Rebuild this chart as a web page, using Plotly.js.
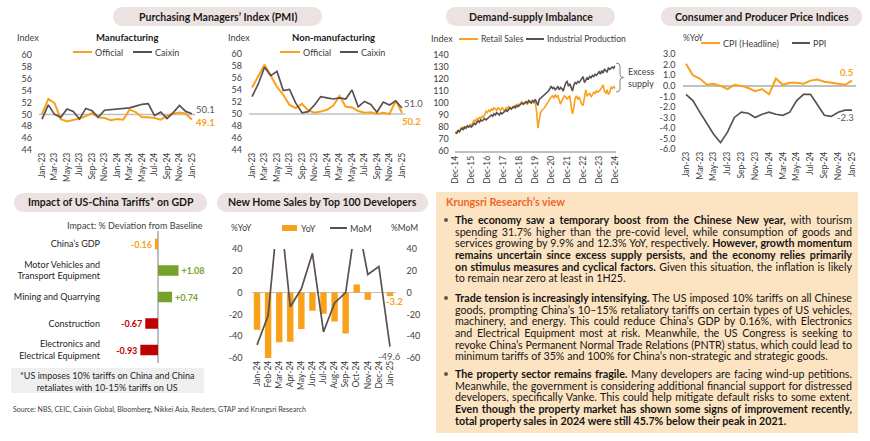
<!DOCTYPE html>
<html>
<head>
<meta charset="utf-8">
<script src="https://cdn.plot.ly/plotly-3.0.1.min.js"></script>
<style>
html,body{margin:0;padding:0;background:#fff;}
#wrap{position:relative;width:870px;height:441px;overflow:hidden;}
#chart{position:absolute;left:0;top:0;width:870px;height:441px;}
#view{position:absolute;left:436px;top:192px;width:422px;height:241px;font-family:Lato,"Open Sans",sans-serif;color:#151515;}
#view .h{position:absolute;left:10px;top:3px;height:14px;line-height:14px;font-size:10.8px;font-weight:bold;color:#f0642a;white-space:nowrap;}
#view .p{position:absolute;left:19px;width:397px;}
#view .l{height:11.6px;line-height:11.6px;font-size:10.7px;white-space:nowrap;}
#view .l span{white-space:nowrap;}
#view .dot{position:absolute;left:-11px;top:3.8px;width:4px;height:4px;border-radius:2px;background:#595959;}
</style>
</head>
<body>
<div id="wrap">
<div id="chart"></div>
<div id="view">
  <div class="h">Krungsri Research’s view</div>
  <div class="p" style="top:22.2px;">
    <div class="dot"></div>
    <div class="l j"><span><b>The economy saw a temporary boost from the Chinese New year,</b> with tourism</span></div>
    <div class="l j"><span>spending 31.7% higher than the pre-covid level, while consumption of goods and</span></div>
    <div class="l j"><span>services growing by 9.9% and 12.3% YoY, respectively. <b>However, growth momentum</b></span></div>
    <div class="l j"><span><b>remains uncertain since excess supply persists, and the economy relies primarily</b></span></div>
    <div class="l j"><span><b>on stimulus measures and cyclical factors.</b> Given this situation, the inflation is likely</span></div>
    <div class="l"><span>to remain near zero at least in 1H25.</span></div>
  </div>
  <div class="p" style="top:100.2px;">
    <div class="dot"></div>
    <div class="l j"><span><b>Trade tension is increasingly intensifying.</b> The US imposed 10% tariffs on all Chinese</span></div>
    <div class="l j"><span>goods, prompting China’s 10–15% retaliatory tariffs on certain types of US vehicles,</span></div>
    <div class="l j"><span>machinery, and energy. This could reduce China’s GDP by 0.16%, with Electronics</span></div>
    <div class="l j"><span>and Electrical Equipment most at risk. Meanwhile, the US Congress is seeking to</span></div>
    <div class="l j"><span>revoke China’s Permanent Normal Trade Relations (PNTR) status, which could lead to</span></div>
    <div class="l"><span>minimum tariffs of 35% and 100% for China’s non-strategic and strategic goods.</span></div>
  </div>
  <div class="p" style="top:176.2px;">
    <div class="dot"></div>
    <div class="l j"><span><b>The property sector remains fragile.</b> Many developers are facing wind-up petitions.</span></div>
    <div class="l j"><span>Meanwhile, the government is considering additional financial support for distressed</span></div>
    <div class="l j"><span>developers, specifically Vanke. This could help mitigate default risks to some extent.</span></div>
    <div class="l j"><span><b>Even though the property market has shown some signs of improvement recently,</b></span></div>
    <div class="l"><span><b>total property sales in 2024 were still 45.7% below their peak in 2021.</b></span></div>
  </div>
</div>
</div>
<script>
// ---------------- DATA ----------------
const pmiMonths = ['Jan-23','Feb-23','Mar-23','Apr-23','May-23','Jun-23','Jul-23','Aug-23','Sep-23','Oct-23','Nov-23','Dec-23',
  'Jan-24','Feb-24','Mar-24','Apr-24','May-24','Jun-24','Jul-24','Aug-24','Sep-24','Oct-24','Nov-24','Dec-24','Jan-25'];
const pmiTicks = ['Jan-23','Mar-23','May-23','Jul-23','Sep-23','Nov-23','Jan-24','Mar-24','May-24','Jul-24','Sep-24','Nov-24','Jan-25'];
const pmiYTicks = [44,46,48,50,52,54,56,58,60];
const pmiSeries = ['Official','Caixin'];

const mfgOfficial = [50.1,52.6,51.9,49.2,48.8,49.0,49.3,49.7,50.2,49.5,49.4,49.0,49.2,49.1,50.8,50.4,49.5,49.5,49.4,49.1,49.8,50.1,50.3,50.1,49.1];
const mfgCaixin   = [49.2,51.6,50.0,49.5,50.9,50.5,49.2,51.0,50.6,49.5,50.7,50.8,50.8,50.9,51.1,51.4,51.7,51.8,49.8,50.4,49.3,50.3,51.5,50.5,50.1];
const nonOfficial = [54.4,56.3,58.2,56.4,54.5,53.2,51.5,51.0,51.7,50.6,50.2,50.4,50.7,51.4,53.0,51.2,51.1,50.5,50.2,50.3,50.0,50.2,50.0,52.2,50.2];
const nonCaixin   = [52.9,55.0,57.8,56.4,57.1,53.9,54.1,51.8,50.2,50.4,51.5,52.9,52.7,52.5,52.7,52.5,54.0,51.2,52.1,51.6,50.3,52.0,51.5,52.2,51.0];

// Demand-supply (monthly index, Dec-14 .. Dec-24)
const dsStart = {month: 11, year: 2014};
const dsTicks = ['Dec-14','Dec-15','Dec-16','Dec-17','Dec-18','Dec-19','Dec-20','Dec-21','Dec-22','Dec-23','Dec-24'];
const dsYTicks = [60,70,80,90,100,110,120,130,140];
const dsSeries = ['Retail Sales','Industrial Production'];
const retailSales = [74,
  75,77,76,79,78,80,79,80,81,80,82,81,
  83,86,84,87,86,88,87,89,88,91,93,92,
  94,93,95,94,96,95,94,96,95,94,96,95,
  93,96,95,97,96,95,97,96,98,97,99,98,
  100,101,99,100,101,99,100,102,100,101,100,101,
  93,79,88,92,94,95,96,98,100,102,104,105,
  106,104,107,105,106,103,99,102,104,106,105,103,
  105,106,97,91,96,104,106,103,105,102,99,98,
  104,111,106,107,108,105,107,109,108,110,109,110,
  111,113,115,110,108,111,107,109,113,112,114,112];
const industrialProd = [76,
  75,77,76,78,79,78,80,79,81,80,81,80,
  82,83,82,84,85,84,86,85,86,87,86,87,
  88,89,90,89,91,90,92,91,90,92,91,92,
  93,94,93,95,96,95,96,97,96,98,97,98,
  99,100,99,100,101,100,102,101,100,102,101,103,
  101,98,103,104,105,106,107,108,109,110,112,114,
  112,113,111,112,114,111,113,112,110,114,117,118,
  114,116,113,110,115,117,116,118,117,119,121,122,
  117,119,121,120,122,121,123,122,124,123,125,126,
  124,127,125,128,127,126,129,128,129,130,129,131];

// CPI / PPI
const cpiYTicks = [3,2,1,0,-1,-2,-3,-4,-5,-6];
const cpiSeries = ['CPI (Headline)','PPI'];
const cpi = [2.1,1.0,0.7,0.1,0.2,0.0,-0.3,0.1,0.0,-0.2,-0.5,-0.3,-0.8,0.7,0.1,0.3,0.3,0.2,0.5,0.6,0.4,0.3,0.2,0.1,0.5];
const ppi = [-0.8,-1.4,-2.5,-3.6,-4.6,-5.4,-4.4,-3.0,-2.5,-2.6,-3.0,-2.7,-2.5,-2.7,-2.8,-2.5,-1.4,-0.8,-0.8,-1.8,-2.8,-2.9,-2.5,-2.3,-2.3];

// Tariff impact
const tariffCats = ['China’s GDP','Motor Vehicles and<br>Transport Equipment','Mining and Quarrying','Construction','Electronics and<br>Electrical Equipment'];
const tariffVals = [-0.16, 1.08, 0.74, -0.67, -0.93];

// New home sales
const homeMonths = ['Jan-24','Feb-24','Mar-24','Apr-24','May-24','Jun-24','Jul-24','Aug-24','Sep-24','Oct-24','Nov-24','Dec-24','Jan-25'];
const homeYoY = [-34,-60,-45.5,-45,-33.5,-16.6,-19.5,-26.5,-37.5,7.4,-6.5,0,-3.2];
const homeMoM = [-48,-21,85,-13,3.5,36,-36,-9.5,0,70,16.6,24,-49.6];
const homeYTicks = [40,20,0,-20,-40,-60];
const homeSeries = ['YoY','MoM'];

// ---------------- HELPERS ----------------
const W = 870, H = 441;
const PX = p => p / W;
const PY = p => 1 - p / H;
const dx = (a, b) => [a / W, b / W];
const dy = (t, b) => [1 - b / H, 1 - t / H];

const ORANGE = '#f9a11b', GRAY = '#5b5050', GREEN = '#76a12b', RED = '#c00000', LGRAY = '#bfbfbf', TXT = '#404040';
const FONT = 'Lato, "Open Sans", sans-serif';

const dsMonths = [];
{
  const mn = ['Jan','Feb','Mar','Apr','May','Jun','Jul','Aug','Sep','Oct','Nov','Dec'];
  let m = dsStart.month, y = dsStart.year;
  for (let i = 0; i < retailSales.length; i++) {
    dsMonths.push(mn[m] + '-' + String(y % 100).padStart(2, '0'));
    m++; if (m > 11) { m = 0; y++; }
  }
}

function pillPath(x0, x1, y0, y1) {
  const r = (y1 - y0) / 2, k = 0.5523 * r;
  const P = (x, y) => PX(x) + ',' + PY(y);
  return 'M' + P(x0 + r, y0) + ' L' + P(x1 - r, y0) +
    ' C' + P(x1 - r + k, y0) + ' ' + P(x1, y0 + r - k) + ' ' + P(x1, y0 + r) +
    ' C' + P(x1, y0 + r + k) + ' ' + P(x1 - r + k, y1) + ' ' + P(x1 - r, y1) +
    ' L' + P(x0 + r, y1) +
    ' C' + P(x0 + r - k, y1) + ' ' + P(x0, y1 - r + k) + ' ' + P(x0, y1 - r) +
    ' C' + P(x0, y0 + r - k) + ' ' + P(x0 + r - k, y0) + ' ' + P(x0 + r, y0) + ' Z';
}

// ---------------- TRACES ----------------
const ln = (x, y, xa, ya, color, width, name) => ({type:'scatter', mode:'lines', x, y, xaxis:xa, yaxis:ya,
  line:{color, width}, name, showlegend:false, hoverinfo:'skip'});

const tariffColors = [ORANGE, GREEN, GREEN, RED, RED];
const tariffText = tariffVals.map(v => (v > 0 ? '+' : '') + v.toFixed(2));

const traces = [
  ln(pmiMonths, mfgOfficial, 'x', 'y', ORANGE, 2, pmiSeries[0]),
  ln(pmiMonths, mfgCaixin, 'x', 'y', GRAY, 1.7, pmiSeries[1]),
  ln(pmiMonths, nonOfficial, 'x2', 'y2', ORANGE, 2, pmiSeries[0]),
  ln(pmiMonths, nonCaixin, 'x2', 'y2', GRAY, 1.7, pmiSeries[1]),
  ln(dsMonths, retailSales, 'x3', 'y3', ORANGE, 1.6, dsSeries[0]),
  ln(dsMonths, industrialProd, 'x3', 'y3', GRAY, 1.6, dsSeries[1]),
  ln(pmiMonths, cpi, 'x4', 'y4', ORANGE, 2, cpiSeries[0]),
  ln(pmiMonths, ppi, 'x4', 'y4', GRAY, 1.7, cpiSeries[1]),
  {type:'bar', orientation:'h', x:tariffVals, y:tariffCats, xaxis:'x5', yaxis:'y5', width:0.4,
   marker:{color:tariffColors}, text:tariffText, texttemplate:'<b>%{text}</b>', textposition:'outside',
   textfont:{color:tariffColors, size:9, family:FONT}, cliponaxis:false, constraintext:'none',
   showlegend:false, hoverinfo:'skip'},
  {type:'bar', x:homeMonths, y:homeYoY, xaxis:'x6', yaxis:'y6', width:0.58, marker:{color:ORANGE},
   name:homeSeries[0], showlegend:false, hoverinfo:'skip'},
  ln(homeMonths, homeMoM, 'x6', 'y7', GRAY, 1.7, homeSeries[1])
];

// ---------------- LAYOUT ----------------
const tf = {size:9, color:TXT, family:FONT};
const base = {showgrid:false, zeroline:false, showline:false, ticks:'', fixedrange:true, tickfont:tf};
const catX = (dom, anchor, range, tickvals) => Object.assign({}, base, {domain:dom, anchor, type:'category', range,
  tickmode:'array', tickvals, tickangle:-90, tickfont:Object.assign({}, tf, {size:8.5})});

const layout = {
  width:W, height:H, margin:{l:0, r:0, t:0, b:0}, paper_bgcolor:'#fff', plot_bgcolor:'rgba(0,0,0,0)',
  font:{family:FONT, size:9, color:TXT}, showlegend:false, bargap:0.4,
  xaxis: catX(dx(38.9,195.1), 'y', [-0.5,24.5], pmiTicks),
  yaxis: Object.assign({}, base, {domain:dy(55,150), anchor:'x', range:[44,60], tickmode:'array', tickvals:pmiYTicks, ticklabelstandoff:6}),
  xaxis2: catX(dx(248.9,405.1), 'y2', [-0.5,24.5], pmiTicks),
  yaxis2: Object.assign({}, base, {domain:dy(54,150), anchor:'x2', range:[44,60], tickmode:'array', tickvals:pmiYTicks, ticklabelstandoff:6}),
  xaxis3: Object.assign(catX(dx(454.8,615.7), 'y3', [-0.5,120.5], dsTicks), {showline:true, linecolor:LGRAY, linewidth:1.5}),
  yaxis3: Object.assign({}, base, {domain:dy(55,151), anchor:'x3', range:[60,140], tickmode:'array', tickvals:dsYTicks, ticklabelstandoff:5}),
  xaxis4: catX(dx(682.5,855.5), 'y4', [-0.5,24.5], pmiTicks),
  yaxis4: Object.assign({}, base, {domain:dy(54.3,149), anchor:'x4', range:[-6,3], tickmode:'array', tickvals:cpiYTicks,
    ticktext:cpiYTicks.map(v => v.toFixed(1)), zeroline:true, zerolinecolor:LGRAY, zerolinewidth:1.5, ticklabelstandoff:6}),
  xaxis5: Object.assign({}, base, {domain:dx(103,205), anchor:'y5', range:[-2.895,2.474], showticklabels:false,
    zeroline:true, zerolinecolor:LGRAY, zerolinewidth:1.5}),
  yaxis5: Object.assign({}, base, {domain:dy(230.75,363.25), anchor:'x5', type:'category', range:[4.5,-0.5],
    tickfont:{size:9, color:'#262626', family:FONT}, ticklabelstandoff:2}),
  xaxis6: catX(dx(251.5,395.5), 'y6', [-0.5,12.5], homeMonths),
  yaxis6: Object.assign({}, base, {domain:dy(249,358), anchor:'x6', range:[-60,40], tickmode:'array', tickvals:homeYTicks,
    ticktext:homeYTicks.map(String), zeroline:true, zerolinecolor:LGRAY, zerolinewidth:1.5, ticklabelstandoff:8}),
  yaxis7: Object.assign({}, base, {overlaying:'y6', anchor:'x6', side:'right', range:[-60,40], tickmode:'array',
    tickvals:homeYTicks, ticktext:homeYTicks.map(String), ticklabelstandoff:10}),
  shapes: [], annotations: []
};

const S = layout.shapes, A = layout.annotations;
// header pills
const PILL = '#ece2e2';
const headers = [
  [113,322,7,26,'Purchasing Managers’ Index (PMI)'],
  [446,615,7,26,'Demand-supply Imbalance'],
  [661,862,7,26,'Consumer and Producer Price Indices'],
  [14,207,193,212,'Impact of US-China Tariffs* on GDP'],
  [217,428,193,212,'New Home Sales by Top 100 Developers']
];
headers.forEach(h => {
  S.push({type:'path', xref:'paper', yref:'paper', path:pillPath(h[0],h[1],h[2],h[3]), fillcolor:PILL, line:{width:0}, layer:'below'});
  A.push({xref:'paper', yref:'paper', x:PX((h[0]+h[1])/2), y:PY((h[2]+h[3])/2), text:'<b>'+h[4]+'</b>', showarrow:false,
    xanchor:'center', yanchor:'middle', font:{size:10.5, color:'#1a1a1a', family:FONT}});
});
// view box + note box
S.push({type:'rect', xref:'paper', yref:'paper', x0:PX(436), x1:PX(858), y0:PY(433), y1:PY(192), fillcolor:'#fce4c2', line:{width:0}, layer:'below'});
S.push({type:'rect', xref:'paper', yref:'paper', x0:PX(11), x1:PX(204), y0:PY(393), y1:PY(368), fillcolor:'#efefef', line:{width:0}, layer:'below'});
// 50 reference lines on PMI
S.push({type:'line', xref:'x domain', yref:'y', x0:0, x1:1, y0:50, y1:50, line:{color:LGRAY, width:1.5}, layer:'below'});
S.push({type:'line', xref:'x2 domain', yref:'y2', x0:0, x1:1, y0:50, y1:50, line:{color:LGRAY, width:1.5}, layer:'below'});
// excess supply bracket
{
  const P = (x, y) => PX(x) + ',' + PY(y);
  S.push({type:'path', xref:'paper', yref:'paper', line:{color:'#808080', width:1},
    path:'M'+P(616,63)+' Q'+P(620,63)+' '+P(620,66)+' L'+P(620,74.5)+' Q'+P(620,77.5)+' '+P(623.5,77.5)+
         ' Q'+P(620,77.5)+' '+P(620,80.5)+' L'+P(620,89)+' Q'+P(620,92)+' '+P(616,92)});
}
const txt = (x, y, text, opts) => A.push(Object.assign({xref:'paper', yref:'paper', x:PX(x), y:PY(y), text, showarrow:false,
  xanchor:'left', yanchor:'middle', font:{size:9, color:TXT, family:FONT}}, opts || {}));
txt(626, 72, 'Excess'); txt(626, 83, 'supply');

// axis unit labels & subtitles
txt(15, 37, 'Index');
txt(127, 38, '<b>Manufacturing</b>', {xanchor:'center', font:{size:9.5, color:'#1a1a1a', family:FONT}});
txt(226, 37, 'Index');
txt(333, 37, '<b>Non-manufacturing</b>', {xanchor:'center', font:{size:9.5, color:'#1a1a1a', family:FONT}});
txt(429, 39, 'Index');
txt(681, 38, '%YoY', {font:{size:8.5, color:TXT, family:FONT}});
txt(205, 225, 'Impact: % Deviation from Baseline', {xanchor:'right'});
txt(229, 228, '%YoY', {font:{size:8.5, color:TXT, family:FONT}});
txt(389, 228, '%MoM', {font:{size:8.5, color:TXT, family:FONT}});
txt(107, 381, '*US imposes 10% tariffs on China and China<br>retaliates with 10-15% tariffs on US', {xanchor:'center', font:{size:9, color:'#262626', family:FONT}});
txt(11, 409, 'Source: NBS, CEIC, Caixin Global, Bloomberg, Nikkei Asia, Reuters, GTAP and Krungsri Research', {font:{size:7, color:TXT, family:FONT}});

// manual legends
const legLine = (x0, x1, y, color, label, fs) => {
  S.push({type:'line', xref:'paper', yref:'paper', x0:PX(x0), x1:PX(x1), y0:PY(y), y1:PY(y), line:{color, width:2}});
  txt(x1 + 0.5, y, label, {font:{size:fs || 9, color:TXT, family:FONT}});
};
legLine(73, 92, 52, ORANGE, pmiSeries[0]); legLine(133, 152, 52, GRAY, pmiSeries[1]);
legLine(280, 300, 52, ORANGE, pmiSeries[0]); legLine(340, 358, 52, GRAY, pmiSeries[1]);
legLine(459, 478, 39, ORANGE, dsSeries[0], 8.6); legLine(526, 544, 39, GRAY, dsSeries[1], 8.6);
legLine(701, 720, 43, ORANGE, cpiSeries[0]); legLine(792, 810, 43, GRAY, cpiSeries[1]);
S.push({type:'rect', xref:'paper', yref:'paper', x0:PX(282), x1:PX(297), y0:PY(231), y1:PY(225), fillcolor:ORANGE, line:{width:0}});
txt(299, 228, homeSeries[0]);
legLine(330, 347, 228, GRAY, homeSeries[1]);

// end-point value labels
const last = arr => arr[arr.length - 1];
const endLab = (xa, ya, xv, yv, text, color, bold, xs, ys) => A.push({xref:xa, yref:ya, x:xv, y:yv,
  text: bold ? '<b>' + text + '</b>' : text, showarrow:false, xanchor:'center', yanchor:'middle', xshift:xs, yshift:ys,
  font:{size:9.5, color, family:FONT}});
endLab('x','y', last(pmiMonths), last(mfgCaixin), last(mfgCaixin).toFixed(1), '#595959', false, 14, 4);
endLab('x','y', last(pmiMonths), last(mfgOfficial), last(mfgOfficial).toFixed(1), ORANGE, true, 14, -3);
endLab('x2','y2', last(pmiMonths), last(nonCaixin), last(nonCaixin).toFixed(1), '#595959', false, 12, 5);
endLab('x2','y2', last(pmiMonths), last(nonOfficial), last(nonOfficial).toFixed(1), ORANGE, true, 10, -9);
endLab('x4','y4', last(pmiMonths), last(cpi), last(cpi).toFixed(1), ORANGE, true, -6, 8);
endLab('x4','y4', last(pmiMonths), last(ppi), last(ppi).toFixed(1), '#595959', false, -7, -7);
endLab('x6','y6', last(homeMonths), last(homeYoY), last(homeYoY).toFixed(1), ORANGE, true, 5, -5);
endLab('x6','y7', last(homeMonths), last(homeMoM), last(homeMoM).toFixed(1), '#595959', false, 0, -10);

Plotly.newPlot('chart', traces, layout, {staticPlot:true, displayModeBar:false});

// justify commentary lines
function fitLines() {
  const target = 397;
  document.querySelectorAll('#view .j').forEach(el => {
    const sp = el.firstElementChild;
    sp.style.wordSpacing = '0px';
    sp.style.transform = '';
    sp.style.display = 'inline';
    const w = sp.getBoundingClientRect().width;
    const n = (sp.textContent.match(/ /g) || []).length;
    let ws = n ? (target - w) / n : 0;
    if (ws < -1.2) {
      sp.style.wordSpacing = '-1.2px';
      const w2 = sp.getBoundingClientRect().width;
      sp.style.display = 'inline-block';
      sp.style.transformOrigin = '0 50%';
      sp.style.transform = 'scaleX(' + (target / w2) + ')';
    } else {
      sp.style.wordSpacing = ws + 'px';
    }
  });
}
fitLines();
if (document.fonts && document.fonts.ready) document.fonts.ready.then(fitLines);
</script>
</body>
</html>
